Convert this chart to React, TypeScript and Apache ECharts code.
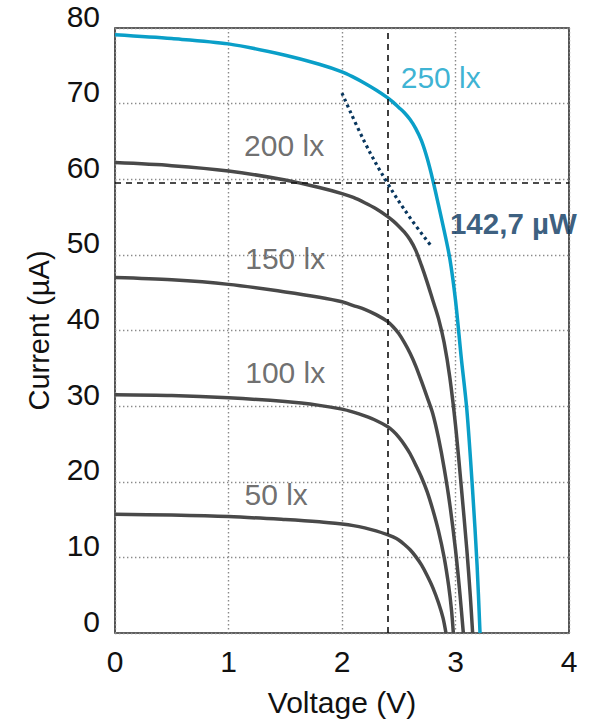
import React, { useEffect, useRef } from "react";
import * as echarts from "echarts";

// ---- data ----
const xTicks = [0, 1, 2, 3, 4];
const yTicks = [0, 10, 20, 30, 40, 50, 60, 70, 80];

const curveNames = ["50 lx", "100 lx", "150 lx", "200 lx", "250 lx"];

const curve50: number[][] = [
  [0, 15.7], [0.5, 15.6], [1, 15.4], [1.5, 15.0], [1.8, 14.7], [2, 14.4],
  [2.1, 14.2], [2.2, 13.9], [2.3, 13.5], [2.4, 13.0], [2.45, 12.7],
  [2.5, 12.3], [2.55, 11.7], [2.6, 11.0], [2.65, 10.1], [2.7, 9.0],
  [2.75, 7.6], [2.8, 6.0], [2.85, 4.0], [2.89, 2.0], [2.916, 0],
];
const curve100: number[][] = [
  [0, 31.5], [0.5, 31.4], [1, 31.1], [1.5, 30.6], [1.8, 30.1], [2, 29.6],
  [2.1, 29.2], [2.2, 28.7], [2.3, 28.1], [2.4, 27.3], [2.45, 26.7],
  [2.5, 25.9], [2.55, 24.9], [2.6, 23.7], [2.65, 22.2], [2.7, 20.6],
  [2.75, 18.7], [2.8, 16.3], [2.85, 13.5], [2.9, 10.0], [2.94, 6.2],
  [2.965, 3.0], [2.981, 0],
];
const curve150: number[][] = [
  [0, 47.0], [0.5, 46.7], [1, 46.1], [1.5, 45.1], [1.8, 44.4], [2, 43.8],
  [2.1, 43.3], [2.2, 42.8], [2.3, 42.1], [2.4, 41.2], [2.45, 40.5],
  [2.5, 39.6], [2.55, 38.4], [2.6, 37.0], [2.65, 35.3], [2.7, 33.3],
  [2.75, 31.2], [2.8, 29.0], [2.85, 25.8], [2.9, 21.8], [2.95, 17.0],
  [3.0, 11.0], [3.04, 5.0], [3.069, 0],
];
const curve200: number[][] = [
  [0, 62.2], [0.5, 61.8], [1, 61.1], [1.5, 59.9], [1.8, 58.9], [2, 58.1],
  [2.1, 57.6], [2.2, 56.9], [2.3, 56.1], [2.4, 55.1], [2.45, 54.5],
  [2.5, 53.8], [2.55, 53.0], [2.6, 52.0], [2.65, 50.6], [2.7, 48.6],
  [2.75, 46.4], [2.8, 44.0], [2.85, 41.6], [2.9, 38.4], [2.95, 33.8],
  [3.0, 27.5], [3.05, 19.5], [3.1, 11.0], [3.13, 5.0], [3.151, 0],
];
const curve250: number[][] = [
  [0, 79.1], [0.5, 78.6], [1, 77.9], [1.5, 76.4], [1.8, 75.2], [2, 74.2],
  [2.1, 73.5], [2.2, 72.7], [2.3, 71.8], [2.4, 70.8], [2.45, 70.2],
  [2.5, 69.5], [2.55, 68.8], [2.6, 67.9], [2.65, 66.7], [2.7, 65.1],
  [2.75, 62.8], [2.8, 59.9], [2.85, 56.6], [2.9, 53.2], [2.95, 49.5],
  [3.0, 44.0], [3.05, 36.5], [3.1, 29.5], [3.15, 19.0], [3.19, 9.0],
  [3.216, 0],
];
const powerCurve: number[][] = [
  [2.0, 71.4], [2.2, 64.9], [2.4, 59.5], [2.6, 54.9], [2.78, 51.3],
];
const mppVoltage = 2.4;
const mppCurrent = 59.5;
const powerLabel = "142,7 µW";

const xName = "Voltage (V)";
const yName = "Current (µA)";

const BLUE = "#0a9fc8";
const GRAY = "#494949";
const NAVY = "#08365e";
const FONT = "'Liberation Sans', Arial, Helvetica, sans-serif";

export default function App() {
  const ref = useRef<HTMLDivElement>(null);

  useEffect(() => {
    if (!ref.current) return;
    const chart = echarts.init(ref.current, undefined, { renderer: "svg" });

    const curves = [curve50, curve100, curve150, curve200, curve250];
    const lineSeries = curves.map((d, k) => ({
      type: "line",
      name: curveNames[k],
      data: d,
      showSymbol: false,
      symbol: "none",
      smooth: 0.3,
      lineStyle: { color: k === 4 ? BLUE : GRAY, width: 3.5 },
      z: k === 4 ? 4 : 3,
      silent: true,
    }));

    const labelAnchors = [
      [1.42, 18.3],
      [1.5, 34.4],
      [1.5, 49.5],
      [1.49, 64.4],
      [2.87, 73.5],
    ];

    const option: any = {
      animation: false,
      grid: {
        left: 115,
        top: 28,
        right: 22,
        bottom: 91,
        containLabel: false,
        outerBoundsMode: "none",
        show: true,
        borderColor: "#2a2a2a",
        borderWidth: 1.6,
        backgroundColor: "transparent",
      },
      xAxis: {
        type: "value",
        min: xTicks[0],
        max: xTicks[xTicks.length - 1],
        interval: 1,
        name: xName,
        nameLocation: "middle",
        nameGap: 54,
        nameTextStyle: { fontSize: 30, color: "#111", fontFamily: FONT },
        axisLine: { show: false },
        axisTick: { show: false },
        axisLabel: {
          fontSize: 30,
          color: "#111",
          fontFamily: FONT,
          margin: 13,
          formatter: (v: number) => (xTicks.includes(v) ? String(v) : ""),
        },
        splitLine: {
          show: true,
          lineStyle: { color: "#8a8a8a", width: 1.4, type: [1.4, 2.6] },
        },
      },
      yAxis: {
        type: "value",
        min: yTicks[0],
        max: yTicks[yTicks.length - 1],
        interval: 10,
        name: yName,
        nameLocation: "middle",
        nameGap: 62,
        nameRotate: 90,
        nameTextStyle: { fontSize: 29, color: "#111", fontFamily: FONT },
        axisLine: { show: false },
        axisTick: { show: false },
        axisLabel: {
          fontSize: 30,
          color: "#111",
          fontFamily: FONT,
          margin: 15,
          verticalAlign: "bottom",
          lineHeight: 24,
          formatter: (v: number) => (yTicks.includes(v) ? String(v) : ""),
        },
        splitLine: {
          show: true,
          lineStyle: { color: "#8a8a8a", width: 1.4, type: [1.4, 2.6] },
        },
      },
      series: [
        {
          type: "line",
          data: [],
          silent: true,
          markLine: {
            silent: true,
            symbol: "none",
            label: { show: false },
            lineStyle: { color: "#111", width: 1.6, type: [6, 5] },
            data: [{ xAxis: mppVoltage }, { yAxis: mppCurrent }],
          },
          z: 2,
        },
        ...lineSeries,
        {
          type: "line",
          data: powerCurve,
          showSymbol: false,
          symbol: "none",
          smooth: 0.4,
          lineStyle: { color: NAVY, width: 3.2, type: [3, 3.4], cap: "butt" },
          z: 5,
          silent: true,
        },
        {
          type: "scatter",
          symbolSize: 0,
          silent: true,
          z: 6,
          data: [
            ...curveNames.map((n, k) => ({
              value: labelAnchors[k],
              label: {
                show: true,
                position: "inside",
                formatter: n,
                fontSize: 30,
                fontFamily: FONT,
                color: k === 4 ? BLUE : "#4a4a4a",
              },
            })),
            {
              value: [3.51, 54.2],
              label: {
                show: true,
                position: "inside",
                formatter: powerLabel,
                fontSize: 29.5,
                fontWeight: "bold",
                fontFamily: FONT,
                color: NAVY,
              },
            },
          ],
        },
      ],
    };

    chart.setOption(option);
    return () => chart.dispose();
  }, []);

  return (
    <div
      ref={ref}
      style={{ position: "fixed", left: 0, top: 0, width: 591, height: 724, background: "#fff" }}
    />
  );
}
